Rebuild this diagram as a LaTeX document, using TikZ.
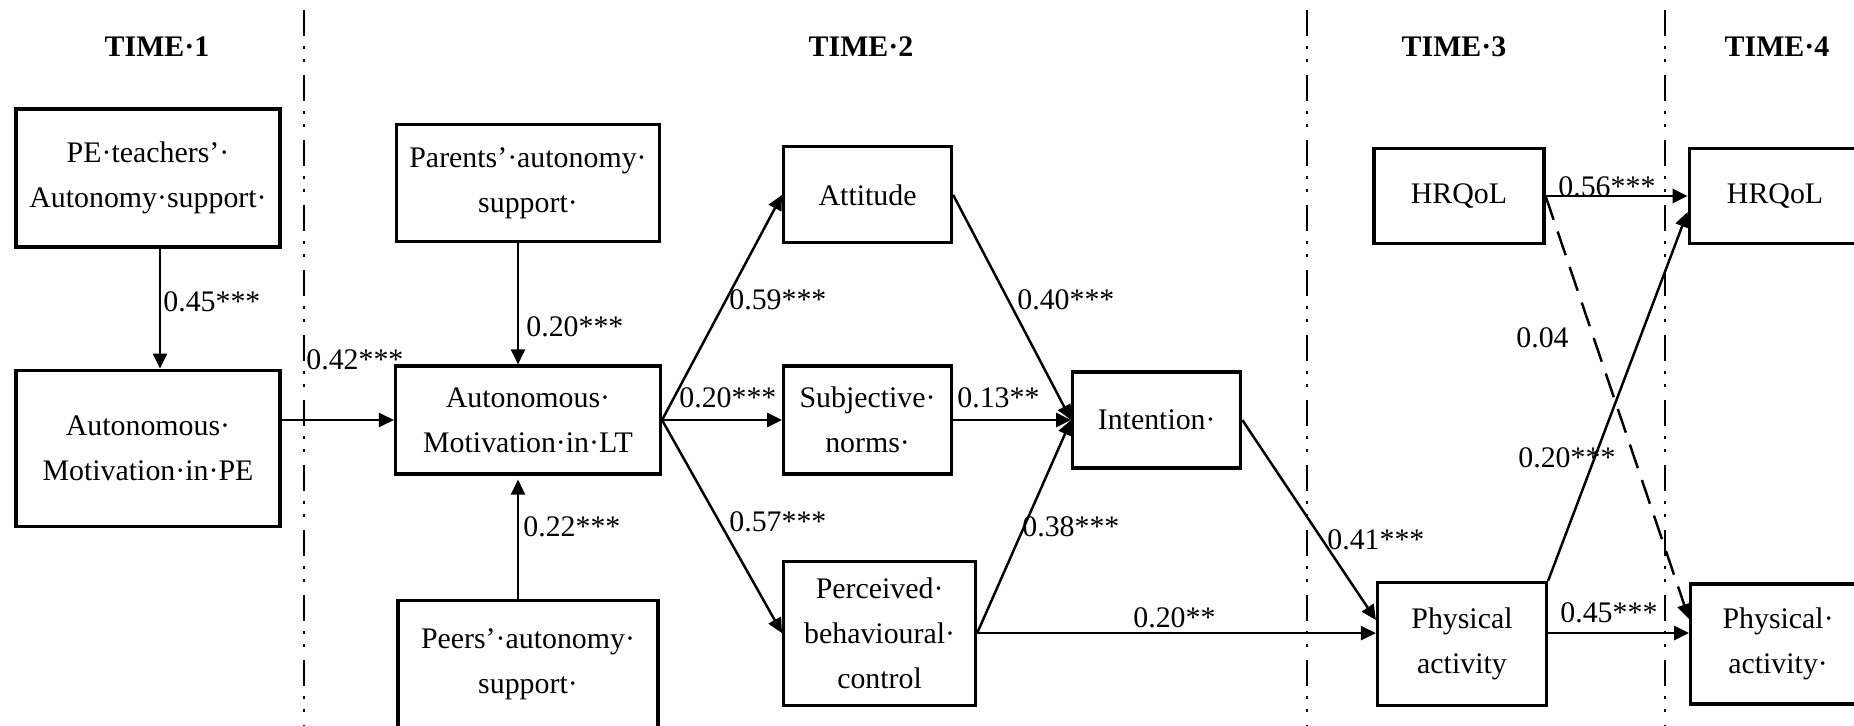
\documentclass[tikz,border=0pt]{standalone}
\usepackage{fontspec}
\setmainfont{Liberation Serif}
\usetikzlibrary{positioning,arrows.meta}

\begin{document}
\begin{tikzpicture}[x=0.02cm, y=-0.02cm, node distance=2.4cm]
    \tikzstyle{var} = [rectangle, draw=black, line width=1.8pt, align=center, inner sep=2pt, font=\fontsize{17pt}{25.5pt}\selectfont];
    \tikzstyle{coef} = [inner sep=0pt, anchor=west, font=\fontsize{17pt}{25pt}\selectfont];
    \tikzstyle{timehead} = [font=\fontsize{17pt}{25pt}\selectfont\bfseries];
    \tikzstyle{link} = [-{Triangle[length=0.3cm, width=0.28cm]}, line width=1.4pt];
    \tikzstyle{dlink} = [link, dash pattern=on 0.5cm off 0.25cm];
    \tikzstyle{divider} = [line width=1.4pt, dash pattern=on 0.52cm off 0.2cm on 0.06cm off 0.2cm on 0.06cm off 0.26cm];

    \useasboundingbox (0,0) rectangle (1854,726);

    % time periods
    \node [timehead] (T1) at (157,47) {TIME·1};
    \node [timehead] (T2) at (861,47) {TIME·2};
    \node [timehead] (T3) at (1454,47) {TIME·3};
    \node [timehead] (T4) at (1777,47) {TIME·4};

    \coordinate (d1top) at (304,10); \coordinate (d1bot) at (304,726);
    \coordinate (d2top) at (1307,10); \coordinate (d2bot) at (1307,726);
    \coordinate (d3top) at (1665,10); \coordinate (d3bot) at (1665,726);
    \draw [divider] (d1top) -- (d1bot);
    \draw [divider] (d2top) -- (d2bot);
    \draw [divider] (d3top) -- (d3bot);

    % time 1
    \node [var, minimum width=5.28cm, minimum height=2.76cm] (PEt) at (148,178) {PE·teachers’·\\Autonomy·support·};
    \node [var, minimum width=5.28cm, minimum height=3.12cm, below = 2.4cm of PEt] (AMPE) {Autonomous·\\Motivation·in·PE};

    % time 2
    \node [var, minimum width=5.3cm, minimum height=2.16cm] (AMLT) at (528,420) {Autonomous·\\Motivation·in·LT};
    \node [var, minimum width=5.26cm, minimum height=2.34cm, above = 2.42cm of AMLT] (Par) {Parents’·autonomy·\\support·};
    \node [var, minimum width=5.2cm, minimum height=2.56cm, below = 2.46cm of AMLT] (Peer) {Peers’·autonomy·\\support·};
    \node [var, minimum width=3.36cm, minimum height=2.16cm, right = of AMLT] (Subj) {Subjective·\\norms·};
    \node [var, minimum width=3.36cm, minimum height=1.92cm, above = of Subj] (Att) {Attitude};
    \node [var, minimum width=3.84cm, minimum height=2.88cm, below = 1.68cm of Subj.south west, anchor=north west] (PBC) {Perceived·\\behavioural·\\control};
    \node [var, minimum width=3.36cm, minimum height=1.92cm, right = 2.36cm of Subj] (Int) {Intention·};

    % time 3 and 4
    \node [var, minimum width=3.4cm, minimum height=1.9cm] (HRQ3) at (1459,196) {HRQoL};
    \node [var, minimum width=3.44cm, minimum height=1.9cm, right = 2.84cm of HRQ3] (HRQ4) {HRQoL};
    \node [var, minimum width=3.38cm, minimum height=2.46cm] (PA3) at (1462,644) {Physical\\activity};
    \node [var, minimum width=3.5cm, minimum height=2.4cm, right = 2.82cm of PA3] (PA4) {Physical·\\activity·};

    \draw [link] ([xshift=0.24cm]PEt.south) -- ([xshift=0.24cm]AMPE.north);
    \draw [link] (AMLT.west -| AMPE.east) -- (AMLT.west);
    \draw [link] ([xshift=-0.2cm]Par.south) -- ([xshift=-0.2cm]AMLT.north);
    \draw [link] ([xshift=-0.2cm]Peer.north) -- ([xshift=-0.2cm, yshift=-0.08cm]AMLT.south);
    \draw [link] (AMLT.east) -- (Att.west);
    \draw [link] (AMLT.east) -- (Subj.west);
    \draw [link] (AMLT.east) -- (PBC.west);
    \draw [link] (Att.east) -- (Int.west);
    \draw [link] (Subj.east) -- (Int.west);
    \draw [link] (PBC.east) -- (Int.west);
    \draw [link] (PBC.east) -- (PBC.east -| PA3.west);
    \draw [link] (Int.east) -- ([yshift=0.48cm]PA3.west);
    \draw [link] (HRQ3.east) -- (HRQ4.west);
    \draw [dlink] (HRQ3.east) -- ([yshift=0.5cm]PA4.west);
    \draw [link] (PA3.north east) -- ([yshift=-0.32cm]HRQ4.west);
    \draw [link] ([yshift=0.22cm]PA3.east) -- ([yshift=0.22cm]PA3.east -| PA4.west);

    % path coefficients
    \node [coef] (c45a) at (163,302) {0.45***};
    \node [coef] (c42) at (306,360) {0.42***};
    \node [coef] (c20a) at (526,327) {0.20***};
    \node [coef] (c22) at (523,527) {0.22***};
    \node [coef] (c59) at (729,300) {0.59***};
    \node [coef] (c20b) at (679,398) {0.20***};
    \node [coef] (c57) at (729,522) {0.57***};
    \node [coef] (c40) at (1017,300) {0.40***};
    \node [coef] (c13) at (957,398) {0.13**};
    \node [coef] (c38) at (1022,527) {0.38***};
    \node [coef] (c20c) at (1133,618) {0.20**};
    \node [coef] (c41) at (1327,540) {0.41***};
    \node [coef] (c56) at (1558,187) {0.56***};
    \node [coef] (c04) at (1516,338) {0.04};
    \node [coef] (c20d) at (1518,458) {0.20***};
    \node [coef] (c45b) at (1560,613) {0.45***};
\end{tikzpicture}
\end{document}
